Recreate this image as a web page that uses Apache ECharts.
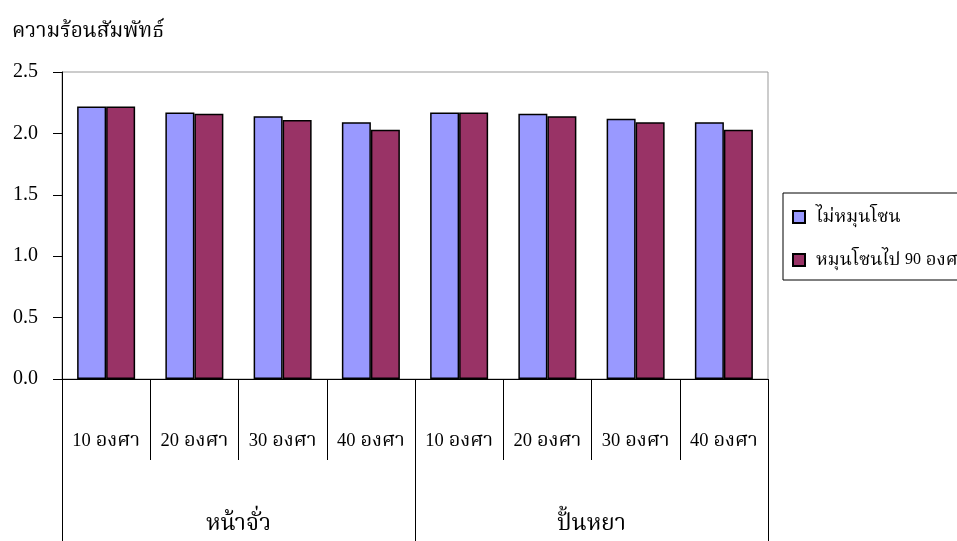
<!DOCTYPE html>
<html>
<head>
<meta charset="utf-8">
<style>
  html, body { margin: 0; padding: 0; background: #fff; }
  #chart { width: 957px; height: 541px; }
</style>
<script src="https://cdn.jsdelivr.net/npm/echarts@6/dist/echarts.min.js"></script>
</head>
<body>
<div id="chart"></div>
<script>
// Relative heat values by roof type and angle
const angleLabels = ['10 องศา', '20 องศา', '30 องศา', '40 องศา', '10 องศา', '20 องศา', '30 องศา', '40 องศา'];
const roofTypes = ['หน้าจั่ว', 'ปั้นหยา'];
const seriesNames = ['ไม่หมุนโซน', 'หมุนโซนไป 90 องศา'];
const noRotation = [2.22, 2.17, 2.14, 2.09, 2.17, 2.16, 2.12, 2.09];
const rotated90 = [2.22, 2.16, 2.11, 2.03, 2.17, 2.14, 2.09, 2.03];
const yTicks = [0, 0.5, 1.0, 1.5, 2.0, 2.5];

const FONT = "'Liberation Serif', 'Noto Serif Thai', 'Noto Sans Thai', serif";

// digits are set a little smaller than the Thai glyphs
const splitDigits = s => s.replace(/(\d+)/g, '{n|$1}');

const chart = echarts.init(document.getElementById('chart'), null, { renderer: 'canvas' });

chart.setOption({
  animation: false,
  backgroundColor: '#ffffff',
  textStyle: { fontFamily: FONT, color: '#000' },
  title: {
    text: 'ความร้อนสัมพัทธ์',
    left: 7,
    top: 16,
    textStyle: { fontFamily: FONT, fontSize: 21, fontWeight: 'normal', color: '#000' }
  },
  legend: {
    orient: 'vertical',
    left: 783,
    top: 193,
    padding: [14, 60, 10, 9],
    itemGap: 23,
    itemWidth: 12,
    itemHeight: 12,
    borderColor: '#000',
    borderWidth: 1,
    icon: 'rect',
    formatter: splitDigits,
    textStyle: {
      fontFamily: FONT, fontSize: 18.5, lineHeight: 20, color: '#000',
      padding: [0, 0, 0, 6],
      rich: { n: { fontFamily: FONT, fontSize: 16, color: '#000' } }
    },
    data: seriesNames
  },
  grid: {
    left: 62,
    right: 189,
    top: 72,
    bottom: 162,
    show: true,
    borderColor: '#999',
    borderWidth: 1
  },
  xAxis: [
    {
      type: 'category',
      data: angleLabels,
      position: 'bottom',
      axisLine: { show: true, lineStyle: { color: '#000', width: 1 } },
      axisTick: { show: true, length: 81, interval: 0, lineStyle: { color: '#000' } },
      axisLabel: {
        interval: 0, margin: 51, fontSize: 20, lineHeight: 22, color: '#000', fontFamily: FONT,
        formatter: splitDigits,
        rich: { n: { fontFamily: FONT, fontSize: 18.5, color: '#000' } }
      },
      splitLine: { show: false }
    },
    {
      type: 'category',
      data: roofTypes,
      position: 'bottom',
      axisLine: { show: false },
      axisTick: { show: true, length: 170, interval: 0, lineStyle: { color: '#000' } },
      axisLabel: { interval: 0, margin: 132, fontSize: 23, lineHeight: 26, color: '#000', fontFamily: FONT },
      splitLine: { show: false }
    }
  ],
  yAxis: {
    type: 'value',
    min: yTicks[0],
    max: yTicks[yTicks.length - 1],
    interval: 0.5,
    axisLine: { show: true, lineStyle: { color: '#000', width: 1 } },
    axisTick: { show: true, length: 9, lineStyle: { color: '#000' } },
    axisLabel: {
      margin: 24,
      fontSize: 20,
      color: '#000',
      fontFamily: FONT,
      formatter: v => v.toFixed(1)
    },
    splitLine: { show: false }
  },
  series: [
    {
      name: seriesNames[0],
      type: 'bar',
      xAxisIndex: 0,
      data: noRotation,
      barWidth: 29,
      barGap: '0%',
      itemStyle: { color: '#9999FF', borderColor: '#000', borderWidth: 1.5 }
    },
    {
      name: seriesNames[1],
      type: 'bar',
      xAxisIndex: 0,
      data: rotated90,
      barWidth: 29,
      barGap: '0%',
      itemStyle: { color: '#993366', borderColor: '#000', borderWidth: 1.5 }
    }
  ]
});
</script>
</body>
</html>
